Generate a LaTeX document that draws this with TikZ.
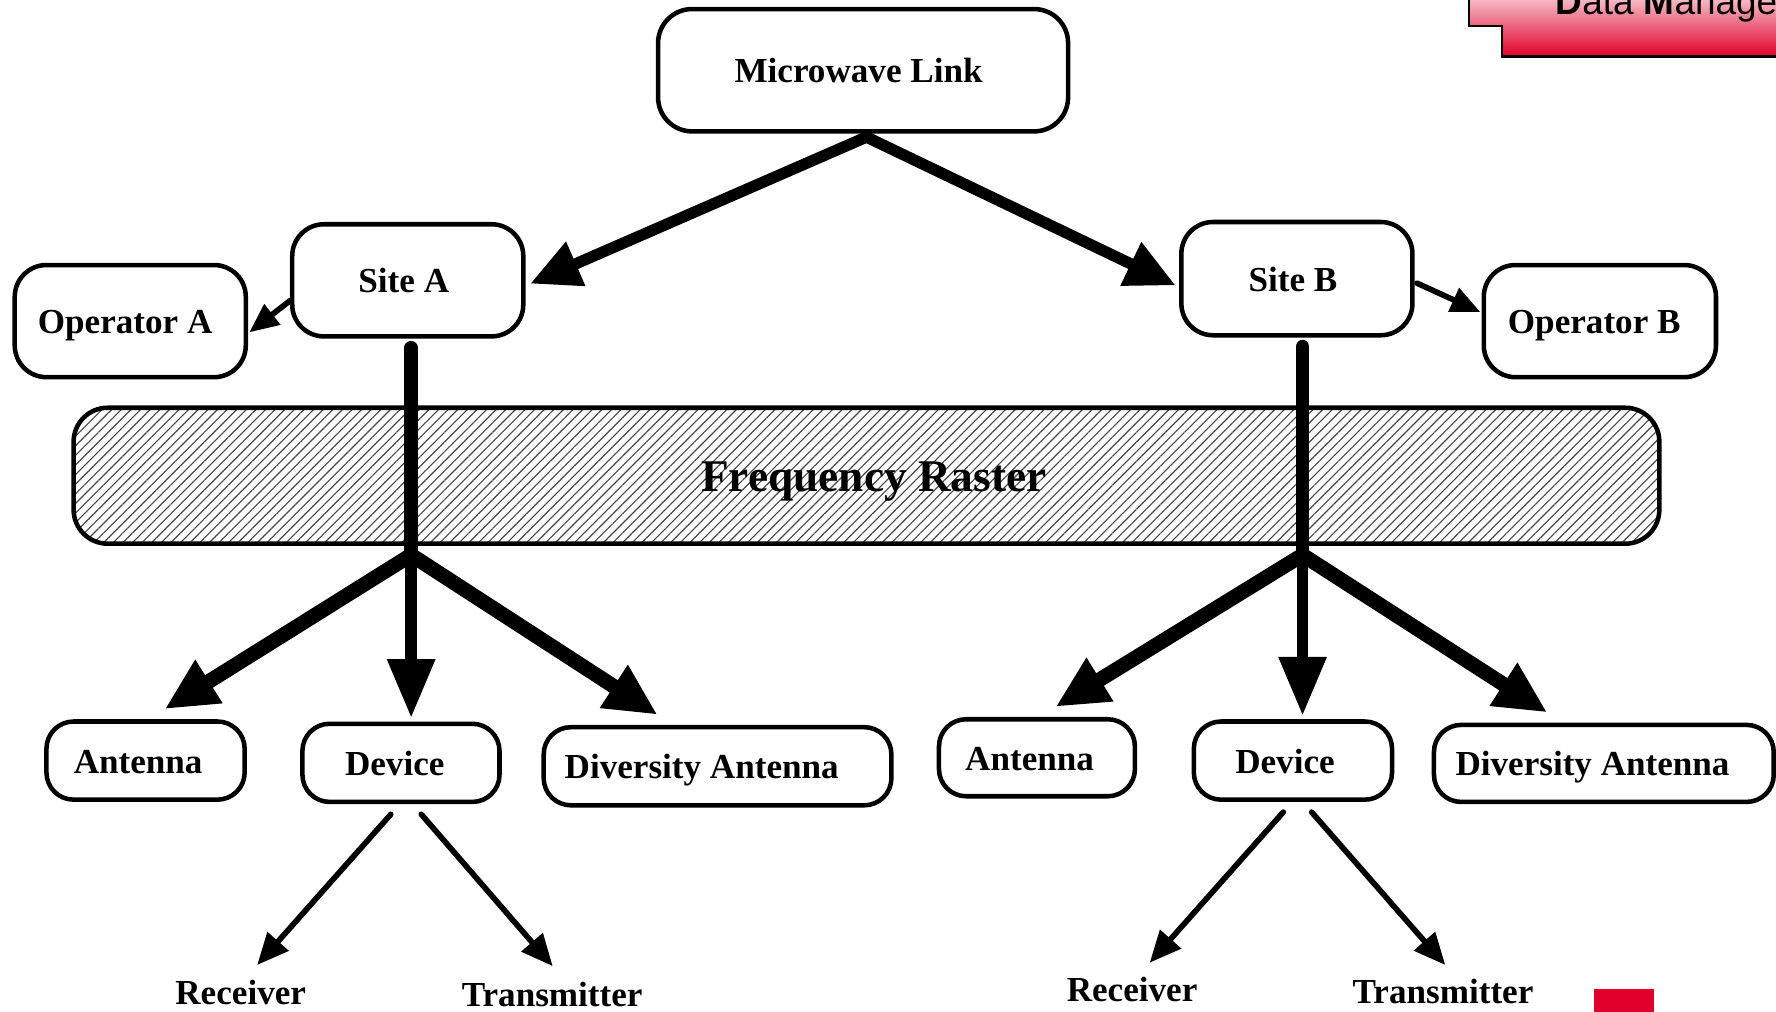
\documentclass[tikz,border=0pt]{standalone}
\usepackage{fontspec}
\setmainfont{Liberation Serif}
\newfontfamily\dmsans{Liberation Sans}
\usetikzlibrary{arrows.meta,patterns.meta,calc}
\definecolor{corpred}{RGB}{224,0,42}
\definecolor{hatchgray}{RGB}{70,70,70}
\newcommand\lbl{\fontsize{15.5}{18}\selectfont\bfseries}
\begin{document}
\begin{tikzpicture}[x=0.5pt,y=-0.5pt,
  boxnode/.style={draw, line width=2pt, rounded corners=12pt, fill=white, inner sep=0pt,
    font=\lbl, text height=14pt, text depth=3pt},
  toparrow/.style={line width=5pt, line cap=round, -{Triangle[length=22pt,width=20pt]}},
  brancharrow/.style={line width=6.5pt, line cap=round, -{Triangle[length=23pt,width=21pt]}},
  devarrow/.style={line width=5pt, line cap=round, -{Triangle[length=26pt,width=20pt]}},
  smallarrow/.style={line width=2.5pt, line cap=round, -{Triangle[length=14pt,width=12pt]}},
  oparrow/.style={line width=2.5pt, line cap=round, -{Triangle[length=13pt,width=11pt]}},
  trunkline/.style={line width=6pt, line cap=round},
  plainlabel/.style={font=\lbl, anchor=base, inner sep=0pt}]
\useasboundingbox (0,0) rectangle (1568,893);
\clip (0,0) rectangle (1568,893);

% corner decoration
\draw[line width=1.2pt, top color=white, middle color=white!92!corpred, bottom color=corpred]
  (1297,-20) -- (1297,23) -- (1326,23) -- (1326,50) -- (1600,50) -- (1600,-20) -- cycle;
\node[anchor=base west, inner sep=0pt, font=\dmsans\fontsize{16.3}{18}\selectfont] (dm) at (1373,13)
  {\textbf{D}ata \textbf{M}anage};
\fill[corpred] (1407,873) rectangle (1460,900);

% frequency raster
\node[draw, line width=2pt, rounded corners=15pt,
  pattern={Lines[angle=45,distance=3pt,line width=0.5pt]}, pattern color=hatchgray,
  minimum width=700pt, minimum height=60pt, inner sep=0pt,
  font=\fontsize{20}{24}\selectfont\bfseries, text height=17pt, text depth=3pt]
  (fr) at (765,420) {\kern6.5pt Frequency Raster};

% boxes
\node[boxnode, minimum width=181pt, minimum height=54pt, rounded corners=15pt] (mw) at (762,62) {Microwave Link\kern4pt};
\node[boxnode, minimum width=102pt, minimum height=49.5pt, rounded corners=14pt] (siteA) at (360,247.5) {Site A\kern3.5pt};
\node[boxnode, minimum width=102pt, minimum height=50pt, rounded corners=14pt] (siteB) at (1145,246) {Site B\kern3.5pt};
\node[boxnode, minimum width=102pt, minimum height=49.5pt, rounded corners=14pt] (opA) at (115,283.5) {Operator A\kern4.5pt};
\node[boxnode, minimum width=102.5pt, minimum height=49.5pt, rounded corners=14pt] (opB) at (1412.5,283.5) {Operator B\kern5pt};

\node[boxnode, minimum width=87.5pt, minimum height=34.5pt] (antL) at (128.5,671.5) {Antenna\kern6.5pt};
\node[boxnode, minimum width=87pt, minimum height=34.5pt] (devL) at (354,673.5) {Device\kern5.5pt};
\node[boxnode, minimum width=153.5pt, minimum height=34.5pt] (divL) at (633.5,676.5) {Diversity Antenna\kern14pt};
\node[boxnode, minimum width=86.5pt, minimum height=34pt] (antR) at (915.5,669) {Antenna\kern6.5pt};
\node[boxnode, minimum width=87.5pt, minimum height=34.5pt] (devR) at (1141.5,671.5) {Device\kern7pt};
\node[boxnode, minimum width=150pt, minimum height=34pt] (divR) at (1416,674) {Diversity Antenna\kern10pt};

\node[plainlabel] (recL) at (212.5,887) {Receiver};
\node[plainlabel] (trL) at (487.5,889) {Transmitter};
\node[plainlabel] (recR) at (999.5,884) {Receiver};
\node[plainlabel] (trR) at (1274,886) {Transmitter};

% connectors
\coordinate (mwb) at (765,121);
\draw[toparrow] (mwb) -- ($(siteA.east)+(4,3)$);
\draw[toparrow] (mwb) -- ($(siteB.west)+(-3,6)$);
\draw[oparrow] ($(siteA.west)+(0,18)$) -- ($(opA.east)+(1,10)$);
\draw[oparrow] ($(siteB.east)+(2,4)$) -- ($(opB.west)+(-1,-8)$);

\coordinate (jA) at (363,490);
\coordinate (jB) at (1150,490);
\draw[trunkline] ($(siteA.south)+(3,8)$) -- (jA);
\draw[trunkline] ($(siteB.south)+(5,8)$) -- (jB);
\draw[brancharrow] (jA) -- ($(antL.north)+(17,-9)$);
\draw[devarrow] (jA) -- ($(devL.north)+(9,-3)$);
\draw[brancharrow] (jA) -- ($(divL.north)+(-53,-9)$);
\draw[brancharrow] (jB) -- ($(antR.north)+(16.5,-9)$);
\draw[devarrow] (jB) -- ($(devR.north)+(8.5,-3)$);
\draw[brancharrow] (jB) -- ($(divR.north)+(-50,-9)$);

\draw[smallarrow] ($(devL.south)+(-9,9)$) -- ($(recL.base)+(14.5,-35)$);
\draw[smallarrow] ($(devL.south)+(18,9)$) -- ($(trL.base)+(0.5,-36)$);
\draw[smallarrow] ($(devR.south)+(-8.5,9)$) -- ($(recR.base)+(15.5,-34)$);
\draw[smallarrow] ($(devR.south)+(16.5,9)$) -- ($(trR.base)+(2,-34)$);
\end{tikzpicture}
\end{document}
